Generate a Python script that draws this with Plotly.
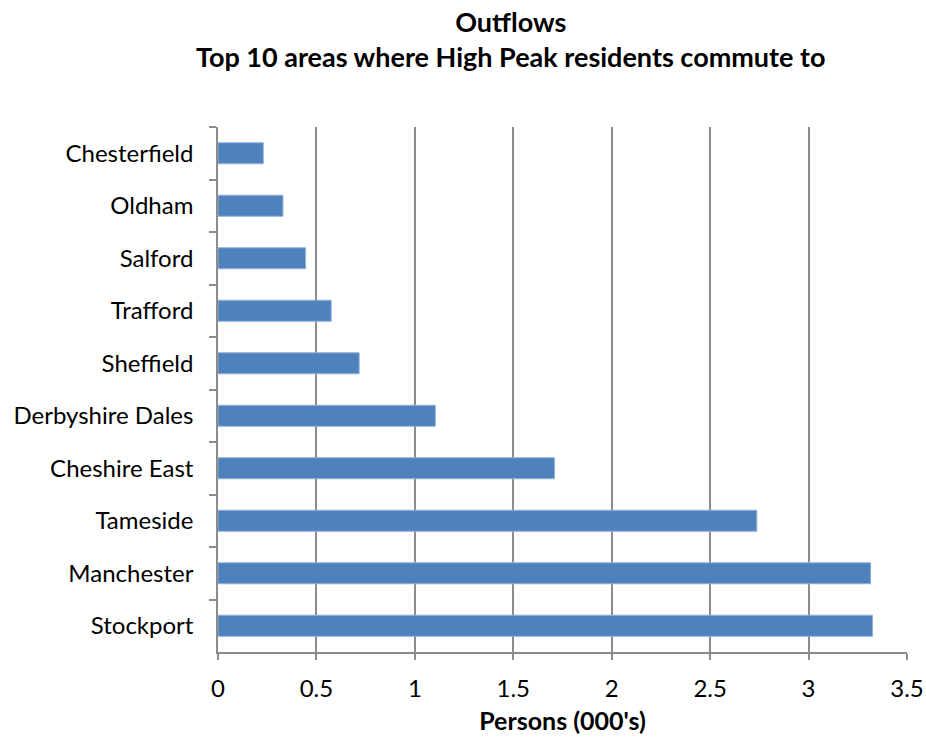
import plotly.graph_objects as go

areas = ["Chesterfield", "Oldham", "Salford", "Trafford", "Sheffield",
         "Derbyshire Dales", "Cheshire East", "Tameside", "Manchester", "Stockport"]
persons = [0.23, 0.33, 0.445, 0.575, 0.717, 1.104, 1.709, 2.737, 3.315, 3.325]

font_family = "Lato, Carlito, Calibri, sans-serif"
grey = "#8c8c8c"

fig = go.Figure()
fig.add_trace(go.Bar(
    x=persons,
    y=areas,
    orientation="h",
    marker=dict(color="#4f81bd", line=dict(color="#8fb0d8", width=1)),
    width=0.4,
    hovertemplate="%{y}: %{x}<extra></extra>",
))

# plot area is 218..907 px across, 127..652 px down
fig.add_annotation(
    text="<b>Outflows</b><br><b>Top 10 areas where High Peak residents commute to</b>",
    xref="paper", yref="paper",
    x=(510 - 218) / 689, y=(741 - 3 - 89) / 525,
    xanchor="center", yanchor="top",
    showarrow=False,
    font=dict(family=font_family, size=27, color="black"),
)

fig.update_layout(
    width=926,
    height=741,
    template="plotly_white",
    showlegend=False,
    font=dict(family=font_family, size=24, color="black"),
    margin=dict(t=127, b=89, l=218, r=19),
    plot_bgcolor="white",
    paper_bgcolor="white",
)

fig.update_xaxes(
    range=[0, 3.5],
    dtick=0.5,
    tick0=0,
    showgrid=True,
    gridcolor=grey,
    gridwidth=1.5,
    showline=True,
    linecolor=grey,
    linewidth=1.5,
    ticks="outside",
    ticklen=6,
    tickcolor=grey,
    tickwidth=1.5,
    ticklabelstandoff=8,
    zeroline=False,
    automargin=False,
    tickfont=dict(size=24),
    title=dict(text="<b>Persons (000's)</b>", font=dict(size=25), standoff=12),
)
fig.update_yaxes(
    autorange="reversed",
    showgrid=False,
    showline=True,
    linecolor=grey,
    linewidth=1.5,
    ticks="outside",
    tickson="boundaries",
    ticklen=7,
    tickcolor=grey,
    tickwidth=1.5,
    ticklabelstandoff=18,
    automargin=False,
    tickfont=dict(size=24),
)

fig.write_html(
    "out.html",
    config={"displayModeBar": False},
    post_script="document.body.style.margin='0';",
)
